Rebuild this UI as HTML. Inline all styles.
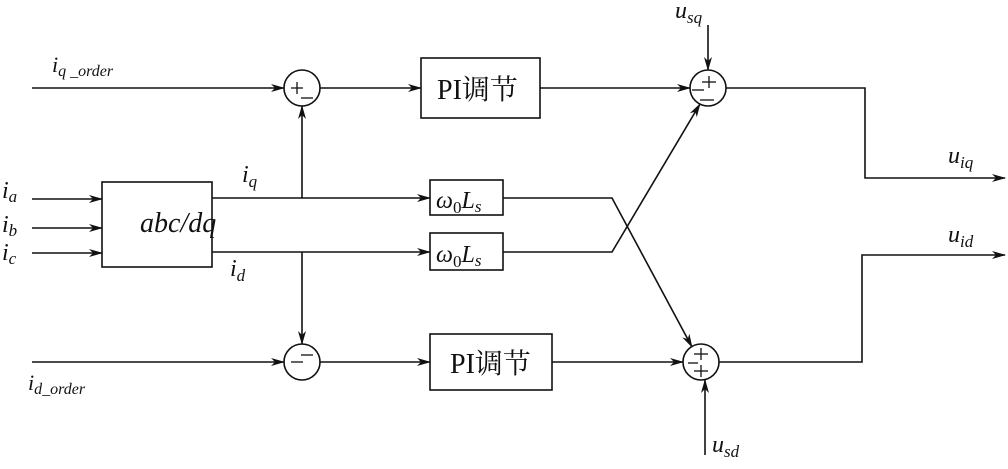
<!DOCTYPE html>
<html><head><meta charset="utf-8"><style>
body{margin:0;background:#fff;}
svg text{font-family:"Liberation Serif","Noto Serif CJK SC",serif;font-style:italic;fill:#111;}
.cn{font-style:normal;}
</style></head><body>
<svg width="1008" height="464" viewBox="0 0 1008 464" xmlns="http://www.w3.org/2000/svg">
<defs><marker id="a" markerWidth="14" markerHeight="8" refX="13" refY="4" orient="auto" markerUnits="userSpaceOnUse"><path d="M0,0 L14,4 L0,8 L4,4 Z" fill="#111"/></marker></defs>
<g stroke="#111" stroke-width="1.6" fill="none">
<!-- abc/dq -->
<rect x="102" y="182" width="110" height="85"/>
<line x1="32" y1="199" x2="102" y2="199" marker-end="url(#a)"/>
<line x1="32" y1="228" x2="102" y2="228" marker-end="url(#a)"/>
<line x1="32" y1="253" x2="102" y2="253" marker-end="url(#a)"/>
<!-- top row -->
<line x1="32" y1="88" x2="284" y2="88" marker-end="url(#a)"/>
<circle cx="302" cy="88" r="18"/>
<line x1="320" y1="88" x2="421" y2="88" marker-end="url(#a)"/>
<rect x="421" y="58" width="119" height="60"/>
<line x1="540" y1="88" x2="690" y2="88" marker-end="url(#a)"/>
<circle cx="708" cy="88" r="18"/>
<polyline points="726,88 865,88 865,178 1005,178" marker-end="url(#a)"/>
<line x1="708" y1="25" x2="708" y2="70" marker-end="url(#a)"/>
<!-- middle -->
<line x1="212" y1="198" x2="430" y2="198" marker-end="url(#a)"/>
<line x1="212" y1="252" x2="430" y2="252" marker-end="url(#a)"/>
<line x1="302" y1="198" x2="302" y2="106" marker-end="url(#a)"/>
<line x1="302" y1="252" x2="302" y2="344" marker-end="url(#a)"/>
<rect x="430" y="180" width="73" height="35"/>
<rect x="430" y="233" width="73" height="37"/>
<polyline points="503,198 612,198 692,347" marker-end="url(#a)"/>
<polyline points="503,252 612,252 700,104" marker-end="url(#a)"/>
<!-- bottom row -->
<line x1="32" y1="362" x2="284" y2="362" marker-end="url(#a)"/>
<circle cx="302" cy="362" r="18"/>
<line x1="320" y1="362" x2="430" y2="362" marker-end="url(#a)"/>
<rect x="430" y="334" width="122" height="56"/>
<line x1="552" y1="362" x2="683" y2="362" marker-end="url(#a)"/>
<circle cx="701" cy="362" r="18"/>
<polyline points="719,362 862,362 862,255 1005,255" marker-end="url(#a)"/>
<line x1="705" y1="455" x2="705" y2="380" marker-end="url(#a)"/>
<!-- signs -->
<g stroke-width="1.3">
<line x1="291" y1="88" x2="303" y2="88"/><line x1="297" y1="82" x2="297" y2="94"/><line x1="301" y1="98" x2="313" y2="98"/>
<line x1="291" y1="362" x2="303" y2="362"/><line x1="301" y1="355" x2="313" y2="355"/>
<line x1="702" y1="82" x2="716" y2="82"/><line x1="709" y1="76" x2="709" y2="88"/><line x1="692" y1="90" x2="704" y2="90"/><line x1="700" y1="100" x2="714" y2="100"/>
<line x1="694" y1="354" x2="708" y2="354"/><line x1="701" y1="348" x2="701" y2="360"/><line x1="688" y1="363" x2="698" y2="363"/><line x1="694" y1="371" x2="708" y2="371"/><line x1="701" y1="365" x2="701" y2="377"/>
</g>
</g>
<text x="140" y="232" font-size="28">abc/dq</text>
<text x="52" y="72" font-size="22">i<tspan font-size="16" dy="4">q _order</tspan></text>
<text x="28" y="390" font-size="22">i<tspan font-size="16" dy="4">d_order</tspan></text>
<text x="2" y="198" font-size="24">i<tspan font-size="17" dy="4">a</tspan></text>
<text x="2" y="232" font-size="24">i<tspan font-size="17" dy="4">b</tspan></text>
<text x="2" y="260" font-size="24">i<tspan font-size="17" dy="4">c</tspan></text>
<text x="242" y="182" font-size="24">i<tspan font-size="17" dy="5">q</tspan></text>
<text x="230" y="276" font-size="24">i<tspan font-size="17" dy="5">d</tspan></text>
<text x="436" y="208" font-size="24">ω<tspan font-size="17" dy="5" font-style="normal">0</tspan><tspan dy="-5">L</tspan><tspan font-size="17" dy="4">s</tspan></text>
<text x="436" y="262" font-size="24">ω<tspan font-size="17" dy="5" font-style="normal">0</tspan><tspan dy="-5">L</tspan><tspan font-size="17" dy="4">s</tspan></text>
<text x="437" y="99" font-size="28" class="cn">PI调节</text>
<text x="450" y="373" font-size="28" class="cn">PI调节</text>
<text x="675" y="18" font-size="24">u<tspan font-size="17" dy="5">sq</tspan></text>
<text x="712" y="452" font-size="24">u<tspan font-size="17" dy="5">sd</tspan></text>
<text x="948" y="163" font-size="24">u<tspan font-size="17" dy="5">iq</tspan></text>
<text x="948" y="242" font-size="24">u<tspan font-size="17" dy="5">id</tspan></text>
</svg>
</body></html>
